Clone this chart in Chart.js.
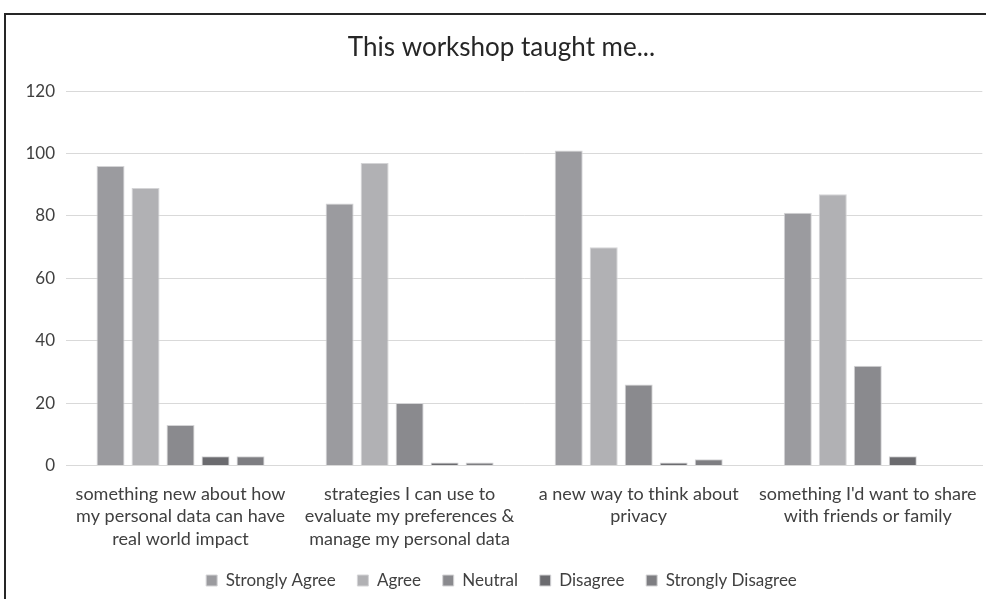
<!DOCTYPE html>
<html>
<head>
<meta charset="utf-8">
<script src="https://cdn.jsdelivr.net/npm/chart.js@4"></script>
<style>
  html, body { margin: 0; padding: 0; background: #fff; overflow: hidden; }
  #frame { position: absolute; left: 4px; top: 13px; width: 1020px; height: 640px; border: 2px solid #262626; }
  #wrap { position: absolute; left: 0; top: 0; width: 986px; height: 599px; }
</style>
</head>
<body>
<div id="frame"></div>
<div id="wrap"><canvas id="workshopChart"></canvas></div>
<script>
// categories (statements) and answers per statement
var categories = [
    ['something new about how', 'my personal data can have', 'real world impact'],
    ['strategies I can use to', 'evaluate my preferences &', 'manage my personal data'],
    ['a new way to think about', 'privacy'],
    ["something I'd want to share", 'with friends or family']
];
var stronglyAgree = [96, 84, 101, 81];
var agree = [89, 97, 70, 87];
var neutral = [13, 20, 26, 32];
var disagree = [3, 1, 1, 3];
var stronglyDisagree = [3, 1, 2, 0];
var yTicks = [0, 20, 40, 60, 80, 100, 120];

document.addEventListener('DOMContentLoaded', function() {
    var font = 'Lato, "Open Sans", sans-serif';
    var ctx = document.getElementById('workshopChart').getContext('2d');

    function series(label, data, color) {
        return {
            label: label,
            data: data,
            backgroundColor: color,
            borderColor: '#d4d4d6',
            borderWidth: 1,
            categoryPercentage: 0.764,
            barPercentage: 0.8
        };
    }

    new Chart(ctx, {
        type: 'bar',
        data: {
            labels: categories,
            datasets: [
                series('Strongly Agree', stronglyAgree, '#9b9b9f'),
                series('Agree', agree, '#b1b1b4'),
                series('Neutral', neutral, '#8a8a8e'),
                series('Disagree', disagree, '#6b6b6f'),
                series('Strongly Disagree', stronglyDisagree, '#7e7e82')
            ]
        },
        options: {
            responsive: true,
            maintainAspectRatio: false,
            animation: false,
            layout: { padding: { left: 20, right: 3, top: 18, bottom: 0 } },
            scales: {
                x: {
                    grid: { display: false },
                    border: { display: true, color: '#d9d9d9', width: 1 },
                    ticks: {
                        color: '#404040',
                        font: { family: font, size: 18, lineHeight: 1.25 },
                        maxRotation: 0,
                        autoSkip: false,
                        padding: 9
                    }
                },
                y: {
                    min: 0,
                    max: 120,
                    afterBuildTicks: function(scale) {
                        scale.ticks = yTicks.map(function(v) { return { value: v }; });
                    },
                    afterFit: function(scale) { scale.width = 46; },
                    grid: { color: '#d9d9d9', lineWidth: 1, drawTicks: false },
                    border: { display: false },
                    ticks: {
                        color: '#404040',
                        font: { family: font, size: 17 },
                        padding: 11
                    }
                }
            },
            plugins: {
                title: {
                    display: true,
                    text: 'This workshop taught me...',
                    color: '#262626',
                    font: { family: font, size: 26, weight: 'normal' },
                    padding: { top: 14, bottom: 28 }
                },
                legend: {
                    position: 'bottom',
                    labels: {
                        color: '#404040',
                        font: { family: font, size: 17 },
                        boxWidth: 11,
                        boxHeight: 11,
                        padding: 13,
                        // a bit more room between items, like the original
                        generateLabels: function(chart) {
                            var items = Chart.defaults.plugins.legend.labels.generateLabels(chart);
                            items.forEach(function(item, i) {
                                if (i < items.length - 1) item.text += '  ';
                            });
                            return items;
                        }
                    }
                },
                tooltip: { enabled: true }
            }
        }
    });
});
</script>
</body>
</html>
